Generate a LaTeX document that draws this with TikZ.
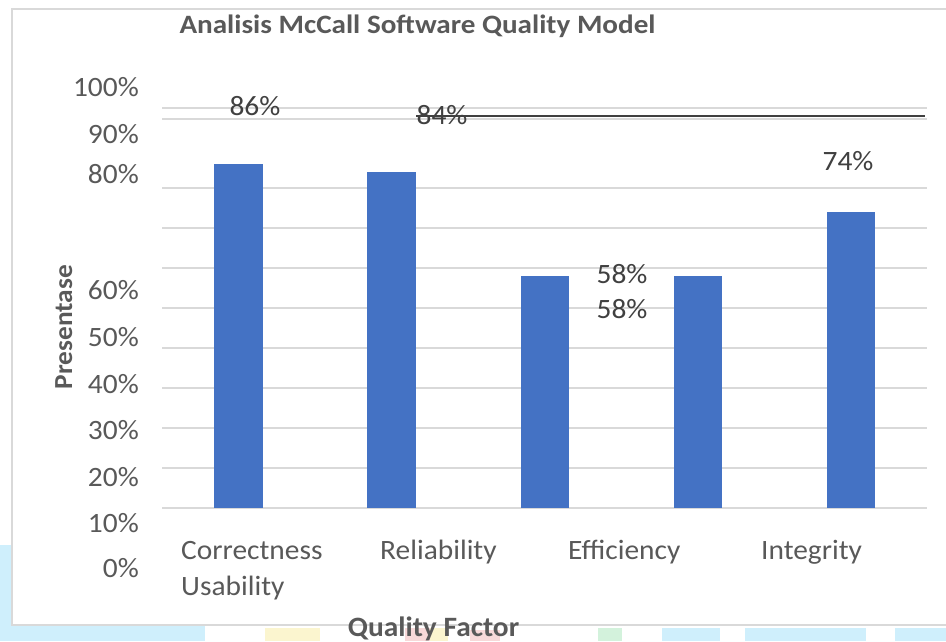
\documentclass[tikz,border=0pt]{standalone}
\usepackage{fontspec}
\setmainfont{Carlito}[FakeStretch=1.05]
\newfontfamily\titlefont{Carlito}[FakeStretch=1.1]
\definecolor{barblue}{HTML}{4472C4}
\definecolor{gridgrey}{HTML}{D9D9D9}
\definecolor{axistext}{HTML}{595959}
\definecolor{labeltext}{HTML}{404040}
\definecolor{darkline}{HTML}{404040}
\definecolor{bgcyan}{HTML}{CFEFFC}
\definecolor{bgyellow}{HTML}{FBF5CF}
\definecolor{bgpink}{HTML}{F8D9D9}
\definecolor{bggreen}{HTML}{D3F2DC}
\tikzset{
  gridln/.style={draw=gridgrey, line width=1.5pt},
  bar/.style={fill=barblue, draw=none},
  ytick/.style={font=\fontsize{28}{30}\selectfont, text=axistext, inner sep=0pt, anchor=base east},
  cattick/.style={font=\fontsize{28}{30}\selectfont, text=axistext, inner sep=0pt, anchor=base west},
  datalbl/.style={font=\fontsize{28}{30}\selectfont, text=labeltext, inner sep=0pt, anchor=base},
  axtitle/.style={font=\bfseries\fontsize{28}{30}\selectfont, text=axistext, inner sep=0pt, anchor=base},
  bgpatch/.style={draw=none}
}
\begin{document}
\begin{tikzpicture}[x=1pt,y=-1pt]
\useasboundingbox (0,0) rectangle (946,641);
% background watermark patches
\fill[bgcyan] (0,545) rectangle (12,641);
\fill[bgcyan] (0,626) rectangle (205,641);
\fill[bgyellow] (265,628) rectangle (320,641);
\fill[bgpink] (405,628) rectangle (430,641);
\fill[bgyellow] (430,628) rectangle (448,641);
\fill[bgpink] (470,630) rectangle (500,641);
\fill[bggreen] (598,628) rectangle (622,641);
\fill[bgcyan] (662,628) rectangle (720,641);
\fill[bgcyan] (745,628) rectangle (866,641);
\fill[bgcyan] (895,628) rectangle (946,641);
% chart area
\fill[white] (12,9) rectangle (946,625);
\draw[gridgrey, line width=1.5pt] (946,9) -- (12,9) -- (12,625) -- (946,625);
% gridlines
\foreach \yy in {108,119,188,228,268,308,348,388,428,468,508}
  \draw[gridln] (162,\yy) -- (927,\yy);
% bars
\fill[bar] (214,164) rectangle (263,508);
\fill[bar] (367,172) rectangle (416,508);
\fill[bar] (521,276) rectangle (569,508);
\fill[bar] (674,276) rectangle (722,508);
\fill[bar] (827,212) rectangle (875,508);
% dark line
\coordinate (dl1) at (416,116);
\coordinate (dl2) at (925,116);
\draw[darkline, line width=2pt] (dl1) -- (dl2);
% title
\node[axtitle, font=\titlefont\bfseries\fontsize{26.5}{28}\selectfont] (title) at (417.5,33) {Analisis McCall Software Quality Model};
% y ticks
\node[ytick] (y100) at (139,96) {100\%};
\node[ytick] (y90) at (139,143) {90\%};
\node[ytick] (y80) at (139,183) {80\%};
\node[ytick] (y60) at (139,299) {60\%};
\node[ytick] (y50) at (139,346) {50\%};
\node[ytick] (y40) at (139,393) {40\%};
\node[ytick] (y30) at (139,439) {30\%};
\node[ytick] (y20) at (139,486) {20\%};
\node[ytick] (y10) at (139,532) {10\%};
\node[ytick] (y0) at (139,577) {0\%};
% categories
\node[cattick] (c1) at (181,559) {Correctness};
\node[cattick] (c1b) at (181,595) {Usability};
\node[cattick] (c2) at (380,559) {Reliability};
\node[cattick] (c3) at (568,559) {Efficiency};
\node[cattick] (c4) at (761,559) {Integrity};
% data labels
\node[datalbl] (d1) at (255,115) {86\%};
\node[datalbl] (d2) at (442,124) {84\%};
\node[datalbl] (d5) at (848,170) {74\%};
\node[datalbl] (d3) at (622,283) {58\%};
\node[datalbl] (d4) at (622,318) {58\%};
% axis titles
\node[axtitle, rotate=90, font=\bfseries\fontsize{26}{28}\selectfont] (ytitle) at (72,327) {Presentase};
\node[axtitle] (xtitle) at (433.5,636) {Quality Factor};
\end{tikzpicture}
\end{document}
